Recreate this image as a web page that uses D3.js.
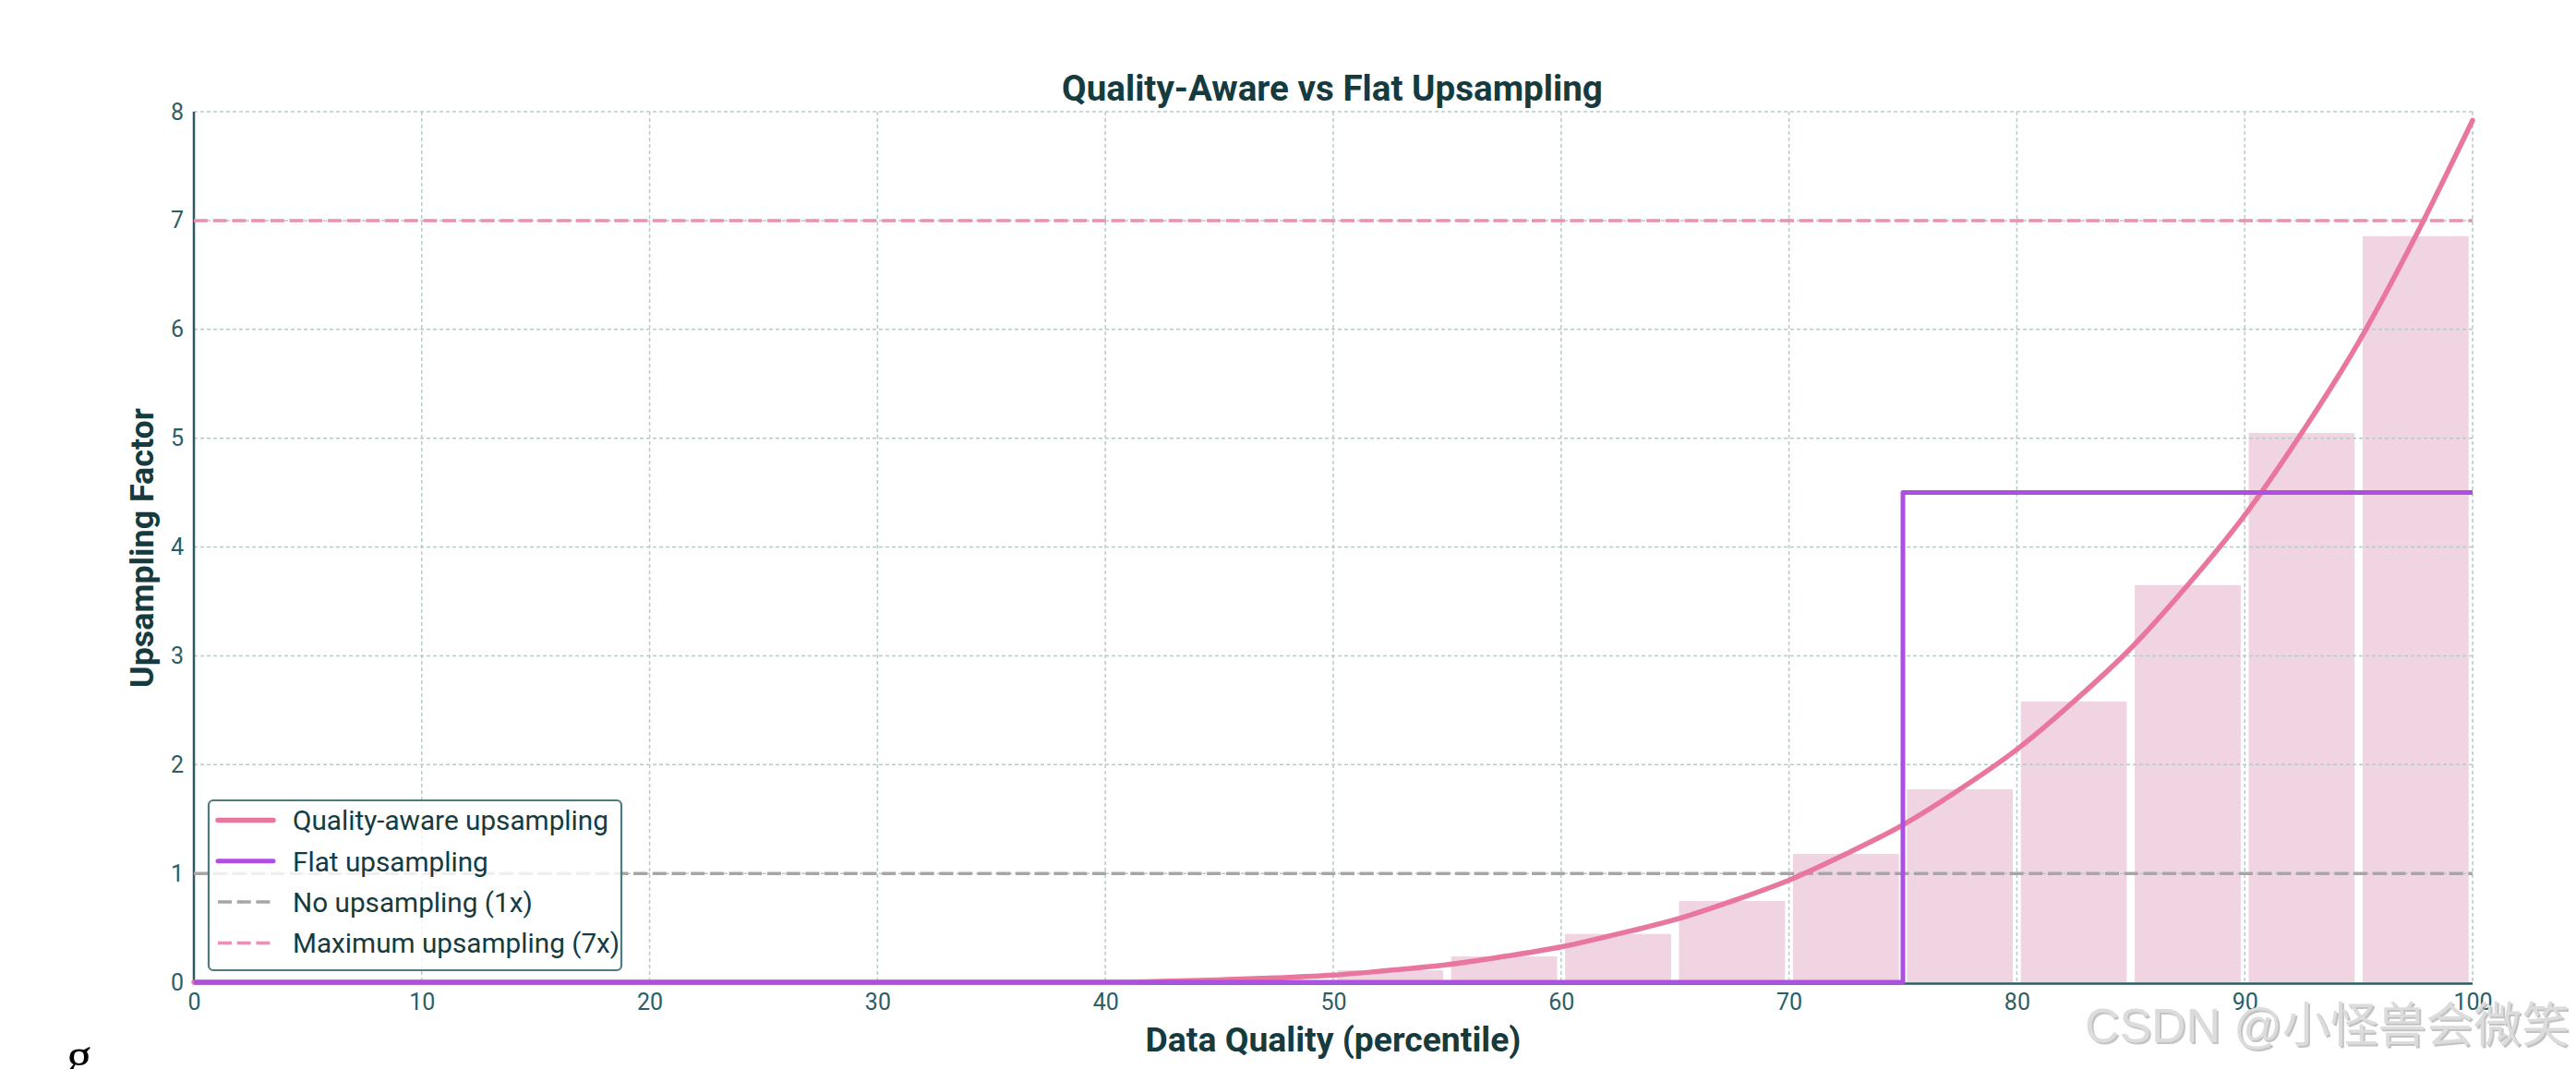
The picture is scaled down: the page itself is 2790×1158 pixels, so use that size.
<!DOCTYPE html>
<html><head><meta charset="utf-8">
<script src="https://cdn.jsdelivr.net/npm/d3@7"></script>
<style>html,body{margin:0;padding:0;background:#fff;} svg{display:block}</style>
</head><body>
<svg id="chart" width="2790" height="1158"></svg>
<script>
const xTicks = [0,10,20,30,40,50,60,70,80,90,100];
const yTicks = [0,1,2,3,4,5,6,7,8];
const qualityX = [0,40,42.5,45,47.5,50,52.5,55,57.5,60,62.5,65,67.5,70,72.5,75,77.5,80,82.5,85,87.5,90,92.5,95,97.5,100];
const qualityY = [0,0,0.008,0.022,0.04,0.065,0.11,0.161,0.237,0.324,0.444,0.575,0.746,0.938,1.179,1.446,1.773,2.139,2.58,3.069,3.65,4.292,5.047,5.882,6.856,7.92];
const flatX = [0,75,75,100];
const flatY = [0,0,4.5,4.5];
const binCenters = [52.5,57.5,62.5,67.5,72.5,77.5,82.5,87.5,92.5,97.5];
const binValues = [0.11,0.237,0.444,0.746,1.179,1.773,2.58,3.65,5.047,6.856];
const refValues = [1,7];
const legendLabels = ["Quality-aware upsampling","Flat upsampling","No upsampling (1x)","Maximum upsampling (7x)"];
const titleText = "Quality-Aware vs Flat Upsampling";
const xLabel = "Data Quality (percentile)";
const yLabel = "Upsampling Factor";
const watermarkText = "CSDN @小怪兽会微笑";

const C = {
  pink: "#e8769f", purple: "#ad4fe0", bar: "#f1d4e2", grid: "#b7caca",
  greyDash: "#a6a6a6", pinkDash: "#eb8fb4", text: "#163b3f", tick: "#2b5e66",
  spine: "#2c5a60", legendBorder: "#4d7b80"
};
const FONT = "Roboto, 'Liberation Sans', sans-serif";

const svg = d3.select("#chart");
svg.append("rect").attr("width",2790).attr("height",1158).attr("fill","#fff");

const x = d3.scaleLinear().domain([0,100]).range([210,2678]);
const y = d3.scaleLinear().domain([0,8]).range([1064,121]);
const barW = 4.65;

function fit(sel, target){
  const w = sel.node().getComputedTextLength();
  const fs = parseFloat(sel.attr("font-size"));
  sel.attr("font-size", fs*target/w);
}

// bars
svg.append("g").selectAll("rect").data(binCenters).join("rect")
  .attr("x", (d)=>x(d - barW/2))
  .attr("width", (d)=>x(d + barW/2) - x(d - barW/2))
  .attr("y", (d,i)=>y(binValues[i]))
  .attr("height", (d,i)=>y(0)-y(binValues[i]))
  .attr("fill", C.bar);

// grid
const grid = svg.append("g").attr("stroke", C.grid).attr("stroke-width",1.5).attr("stroke-dasharray","4,3");
grid.selectAll("line.v").data(xTicks.filter(d=>d>0)).join("line").attr("class","v")
  .attr("x1",d=>x(d)).attr("x2",d=>x(d)).attr("y1",y(8)).attr("y2",y(0));
grid.selectAll("line.h").data(yTicks.filter(d=>d>0)).join("line").attr("class","h")
  .attr("x1",x(0)).attr("x2",x(100)).attr("y1",d=>y(d)).attr("y2",d=>y(d));

// spines
svg.append("line").attr("x1",x(0)).attr("x2",x(0)).attr("y1",y(8)).attr("y2",y(0)+2)
  .attr("stroke",C.spine).attr("stroke-width",2.5);
svg.append("line").attr("x1",x(0)).attr("x2",x(100)).attr("y1",y(0)+1.5).attr("y2",y(0)+1.5)
  .attr("stroke",C.spine).attr("stroke-width",2.5);

// reference lines
svg.append("g").selectAll("line").data(refValues).join("line")
  .attr("x1",x(0)).attr("x2",x(100)).attr("y1",d=>y(d)).attr("y2",d=>y(d))
  .attr("stroke",(d,i)=> i===0 ? C.greyDash : C.pinkDash)
  .attr("stroke-width",3.5).attr("stroke-dasharray","15,5.7");

// curve
const qLine = d3.line().x((d,i)=>x(qualityX[i])).y(d=>y(d)).curve(d3.curveMonotoneX);
svg.append("path").attr("d", qLine(qualityY)).attr("fill","none")
  .attr("stroke",C.pink).attr("stroke-width",5.5).attr("stroke-linejoin","round").attr("stroke-linecap","round");

// flat
const fLine = d3.line().x((d,i)=>x(flatX[i])).y(d=>y(d));
svg.append("path").attr("d", fLine(flatY)).attr("fill","none")
  .attr("stroke",C.purple).attr("stroke-width",5).attr("stroke-linejoin","round");

// axes labels
const xAxis = svg.append("g").attr("transform",`translate(0,${y(0)})`)
  .call(d3.axisBottom(x).tickValues(xTicks).tickSize(0).tickPadding(12).tickFormat(d3.format("d")));
xAxis.select(".domain").remove();
xAxis.selectAll("text").attr("font-family",FONT).attr("font-size",25).attr("fill",C.tick).attr("dy","0.71em");

const yAxis = svg.append("g").attr("transform",`translate(${x(0)},0)`)
  .call(d3.axisLeft(y).tickValues(yTicks).tickSize(0).tickPadding(11).tickFormat(d3.format("d")));
yAxis.select(".domain").remove();
yAxis.selectAll("text").attr("font-family",FONT).attr("font-size",25).attr("fill",C.tick);

// titles
const t = svg.append("text").text(titleText).attr("x",1443).attr("y",109)
  .attr("text-anchor","middle").attr("font-family",FONT).attr("font-weight","bold")
  .attr("font-size",36).attr("fill",C.text);
fit(t,586);
const xt = svg.append("text").text(xLabel).attr("x",1444).attr("y",1139)
  .attr("text-anchor","middle").attr("font-family",FONT).attr("font-weight","bold")
  .attr("font-size",34).attr("fill",C.text);
fit(xt,407);
const yt = svg.append("text").text(yLabel).attr("transform","translate(166,593.5) rotate(-90)")
  .attr("text-anchor","middle").attr("font-family",FONT).attr("font-weight","bold")
  .attr("font-size",34).attr("fill",C.text);
fit(yt,303);

// legend
const lg = svg.append("g");
lg.append("rect").attr("x",226).attr("y",867).attr("width",447).attr("height",184).attr("rx",5)
  .attr("fill","#fff").attr("fill-opacity",0.82).attr("stroke",C.legendBorder).attr("stroke-width",2.2);
const rowY = [888.5, 932.8, 977.1, 1021.4];
const legStyle = [
  {c:C.pink, w:5.5, dash:null},
  {c:C.purple, w:5, dash:null},
  {c:C.greyDash, w:3.5, dash:"15,5.7"},
  {c:C.pinkDash, w:3.5, dash:"15,5.7"}
];
legendLabels.forEach((lab,i)=>{
  const s = legStyle[i];
  lg.append("line").attr("x1",236).attr("x2",296).attr("y1",rowY[i]).attr("y2",rowY[i])
    .attr("stroke",s.c).attr("stroke-width",s.w).attr("stroke-linecap", s.dash? "butt":"round")
    .attr("stroke-dasharray", s.dash);
});
const legTexts = lg.selectAll("text.l").data(legendLabels).join("text").attr("class","l")
  .text(d=>d).attr("x",317).attr("y",(d,i)=>rowY[i]).attr("dy","0.36em")
  .attr("font-family",FONT).attr("font-size",29).attr("fill",C.text);
{
  const n = legTexts.nodes()[0];
  const w = n.getComputedTextLength();
  legTexts.attr("font-size", 29*342/w);
}

// watermark
const wmFont = "'Liberation Sans', 'Noto Sans CJK SC', sans-serif";
const wm2 = svg.append("text").text(watermarkText).attr("x",2260).attr("y",1131)
  .attr("font-family",wmFont).attr("font-size",52).attr("fill","#a9a9a9").attr("fill-opacity",0.7);
fit(wm2,525);
const wm = svg.append("text").text(watermarkText).attr("x",2258).attr("y",1129)
  .attr("font-family",wmFont).attr("font-size",52).attr("fill","#dcdcdc");
fit(wm,525);

// stray glyph
svg.append("text").text("g").attr("x",72).attr("y",1163)
  .attr("font-family","'Liberation Serif', serif").attr("font-size",56).attr("fill","#000");
</script>
</body></html>
